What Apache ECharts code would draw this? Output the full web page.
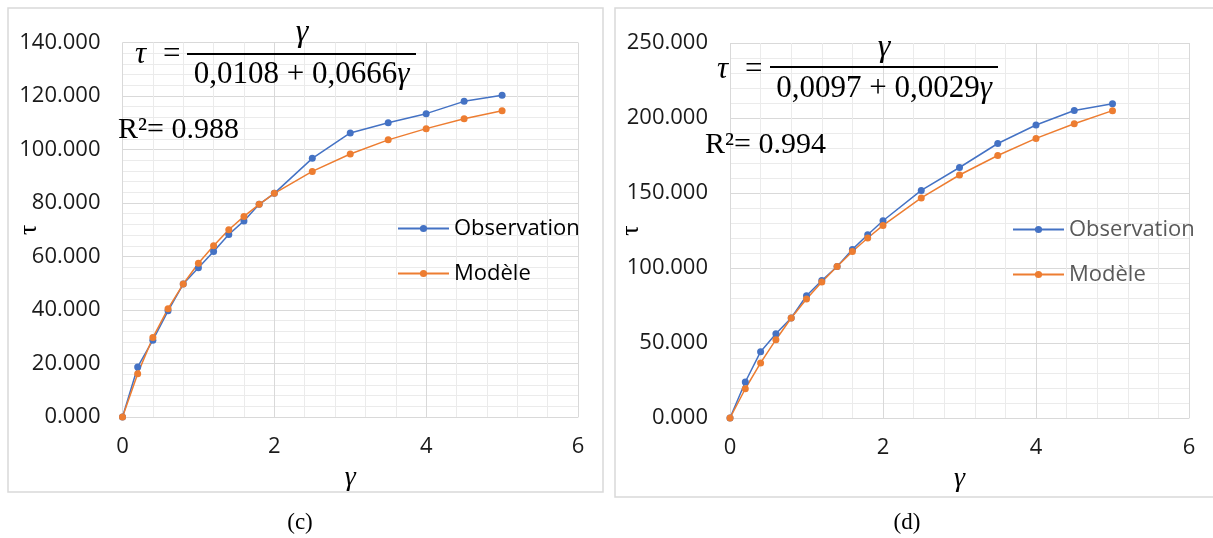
<!DOCTYPE html>
<html><head><meta charset="utf-8">
<script src="https://cdn.jsdelivr.net/npm/echarts@6/dist/echarts.min.js"></script>
<style>html,body{margin:0;padding:0;background:#fff}#c{width:1213px;height:538px}</style>
</head><body><div id="c"></div>
<script>
const gamma = [0, 0.2, 0.4, 0.6, 0.8, 1.0, 1.2, 1.4, 1.6, 1.8, 2.0, 2.5, 3.0, 3.5, 4.0, 4.5, 5.0];
const obsC = [0, 18.7, 28.7, 39.7, 49.7, 55.8, 61.9, 68.2, 73.3, 79.5, 83.6, 96.7, 106.2, 110.0, 113.4, 118.0, 120.3];
const modC = [0, 16.2, 29.7, 40.5, 49.7, 57.5, 64.0, 70.0, 75.0, 79.5, 83.6, 91.8, 98.3, 103.6, 107.8, 111.5, 114.5];
const obsD = [0, 24.0, 44.2, 56.2, 66.7, 81.5, 91.7, 101.0, 112.4, 122.2, 131.5, 151.7, 167.0, 183.0, 195.3, 205.0, 209.5];
const modD = [0, 19.5, 36.7, 52.2, 66.7, 79.3, 90.7, 101.0, 111.0, 120.0, 128.4, 146.7, 162.0, 175.0, 186.4, 196.2, 204.9];
const xTicks = [0, 2, 4, 6];
const yTicksC = [0, 20, 40, 60, 80, 100, 120, 140];
const yTicksD = [0, 50, 100, 150, 200, 250];
const seriesNames = ['Observation', 'Modèle'];
const formulaC = ['0,0108 + 0,0666', '0.988'];
const formulaD = ['0,0097 + 0,0029', '0.994'];

const BLUE = '#4472C4', ORANGE = '#ED7D31';
const SANS = '"Open Sans", "Noto Sans", sans-serif';
const SERIF = '"Liberation Serif", "DejaVu Serif", serif';
const chart = echarts.init(document.getElementById('c'), null, {renderer: 'canvas'});

function xAxis(gi) {
  return {
    type: 'value', gridIndex: gi, min: xTicks[0], max: xTicks[xTicks.length - 1], interval: xTicks[1] - xTicks[0],
    name: 'γ', nameLocation: 'middle', nameGap: 47, nameMoveOverlap: false,
    nameTextStyle: {fontFamily: SERIF, fontStyle: 'italic', fontSize: 28, color: '#000'},
    axisLine: {show: true, lineStyle: {color: '#d9d9d9', width: 1}},
    axisTick: {show: false},
    axisLabel: {fontFamily: SANS, fontSize: 22, color: '#1a1a1a', margin: 19},
    splitLine: {show: true, lineStyle: {color: '#d9d9d9', width: 1}},
    minorTick: {show: false, splitNumber: 5},
    minorSplitLine: {show: true, lineStyle: {color: '#ebebeb', width: 1}}
  };
}
function yAxis(gi, ticks, gap) {
  return {
    type: 'value', gridIndex: gi, min: ticks[0], max: ticks[ticks.length - 1], interval: ticks[1] - ticks[0],
    name: 'τ', nameLocation: 'middle', nameGap: gap, nameRotate: 90, nameMoveOverlap: false,
    nameTextStyle: {fontFamily: SERIF, fontSize: 26, color: '#000'},
    axisLine: {show: false}, axisTick: {show: false},
    axisLabel: {fontFamily: SANS, fontSize: 22, color: '#1a1a1a', margin: 22, formatter: v => v.toFixed(3)},
    splitLine: {show: true, lineStyle: {color: '#d9d9d9', width: 1}},
    minorTick: {show: false, splitNumber: 5},
    minorSplitLine: {show: true, lineStyle: {color: '#ebebeb', width: 1}}
  };
}
function line(name, gi, ys, color) {
  return {
    type: 'line', name: name, xAxisIndex: gi, yAxisIndex: gi,
    data: gamma.map((g, i) => [g, ys[i]]),
    symbol: 'circle', symbolSize: 7, showSymbol: true,
    lineStyle: {color: color, width: 1.5}, itemStyle: {color: color},
    emphasis: {disabled: true}, animation: false
  };
}
function legend(left, top, color) {
  return {
    data: seriesNames, orient: 'vertical', left: left, top: top, padding: 0,
    itemWidth: 51, itemHeight: 9, itemGap: 20,
    textStyle: {fontFamily: SANS, fontSize: 22, color: color, lineHeight: 25, padding: [0, 0, 0, 0]},
    selectedMode: false
  };
}
function formula(tauX, tauY, numX, numY, lineX1, lineX2, lineY, den, denY, r2, r2X, r2Y) {
  const fs = 31;
  return [
    {type: 'text', z: 100, x: tauX, y: tauY, style: {text: 'τ', fontFamily: SERIF, fontStyle: 'italic', fontSize: fs, fill: '#000', textAlign: 'left', textVerticalAlign: 'middle'}},
    {type: 'text', z: 100, x: tauX + 28, y: tauY, style: {text: '=', fontFamily: SERIF, fontSize: fs, fill: '#000', textAlign: 'left', textVerticalAlign: 'middle'}},
    {type: 'text', z: 100, x: numX, y: numY, style: {text: 'γ', fontFamily: SERIF, fontStyle: 'italic', fontSize: fs + 1, fill: '#000', textAlign: 'center', textVerticalAlign: 'middle'}},
    {type: 'line', z: 100, shape: {x1: lineX1, y1: lineY, x2: lineX2, y2: lineY}, style: {stroke: '#000', lineWidth: 2}},
    {type: 'text', z: 100, x: (lineX1 + lineX2) / 2, y: denY, style: {
      text: '{n|' + den + '}{i|γ}',
      rich: {n: {fontFamily: SERIF, fontSize: fs, fill: '#000'}, i: {fontFamily: SERIF, fontStyle: 'italic', fontSize: fs, fill: '#000'}},
      textAlign: 'center', textVerticalAlign: 'middle'}},
    {type: 'text', z: 100, x: r2X, y: r2Y, style: {text: 'R²= ' + r2, fontFamily: SERIF, fontSize: 30, fill: '#000', textAlign: 'left', textVerticalAlign: 'middle'}}
  ];
}

const graphics = [
  {type: 'rect', shape: {x: 8, y: 8, width: 595, height: 484}, style: {fill: 'none', stroke: '#d9d9d9', lineWidth: 1.5}, z: -1},
  {type: 'rect', shape: {x: 615, y: 8, width: 610, height: 489}, style: {fill: 'none', stroke: '#d9d9d9', lineWidth: 1.5}, z: -1},
  {type: 'text', x: 300, y: 523, style: {text: '(c)', fontFamily: SERIF, fontSize: 23, fill: '#000', textAlign: 'center', textVerticalAlign: 'middle'}},
  {type: 'text', x: 907, y: 523, style: {text: '(d)', fontFamily: SERIF, fontSize: 23, fill: '#000', textAlign: 'center', textVerticalAlign: 'middle'}}
].concat(
  formula(135, 55, 302, 33, 187, 416, 54, formulaC[0], 75, formulaC[1], 118, 130),
  formula(717, 70, 884, 48, 770, 998, 67, formulaD[0], 89, formulaD[1], 705, 145)
);

chart.setOption({
  animation: false,
  grid: [
    {left: 122.5, top: 42.5, width: 455.5, height: 374.5, outerBoundsMode: 'none', containLabel: false},
    {left: 730, top: 43, width: 459, height: 375, outerBoundsMode: 'none', containLabel: false}
  ],
  xAxis: [xAxis(0), xAxis(1)],
  yAxis: [yAxis(0, yTicksC, 80), yAxis(1, yTicksD, 86)],
  legend: [legend(397, 216, '#000'), legend(1012, 217, '#595959')],
  series: [
    line(seriesNames[0], 0, obsC, BLUE), line(seriesNames[1], 0, modC, ORANGE),
    line(seriesNames[0], 1, obsD, BLUE), line(seriesNames[1], 1, modD, ORANGE)
  ],
  graphic: graphics
});
</script></body></html>
